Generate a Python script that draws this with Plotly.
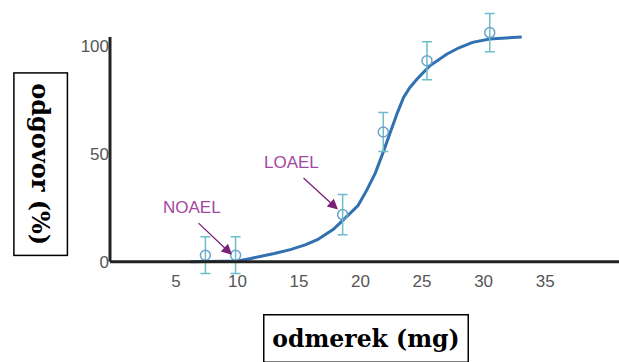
import plotly.graph_objects as go

# ---- data ----
dose_points = [7.4, 9.85, 18.55, 21.85, 25.4, 30.5]
resp_points = [3, 3, 21.8, 60, 93, 106]
resp_err = [8.5, 8.5, 9.3, 9.0, 8.8, 8.9]

dose_curve = [6.2, 8.0, 10.0, 11.0, 11.8, 13.0, 14.3, 15.5, 16.5, 17.8, 18.9, 19.8,
              20.5, 21.2, 21.8, 22.4, 23.0, 23.5, 24.0, 24.6, 25.6, 27.0, 28.0,
              29.1, 30.5, 33.1]
resp_curve = [0, 0, 0.3, 1.4, 2.3, 3.8, 5.6, 7.8, 10.2, 15, 21, 26, 33, 41, 50,
              60, 69, 76, 80.5, 84.5, 90.5, 96, 99, 101.5, 103, 104]

x_ticks = [5, 10, 15, 20, 25, 30, 35]
y_ticks = [0, 50, 100]

x_title = "odmerek (mg)"
y_title = "odgovor (%)"

labels = ["NOAEL", "LOAEL"]
label_xy = [(6.35, 25.0), (14.4, 45.8)]
arrow_head = [(9.56, 3.2), (18.17, 24.1)]
arrow_tail = [(6.72, 18.5), (15.25, 39.4)]

X_RANGE = [-0.35, 41.0]
Y_RANGE = [-8, 116]
AXIS_TOP = 104

fig = go.Figure()

fig.add_trace(go.Scatter(
    x=dose_curve, y=resp_curve, mode="lines",
    line=dict(color="#3171b2", width=3), hoverinfo="skip"))

fig.add_trace(go.Scatter(
    x=dose_points, y=resp_points, mode="markers",
    marker=dict(symbol="circle-open", size=10, color="#6aa3c9",
                line=dict(width=1.5, color="#6aa3c9")),
    error_y=dict(type="data", array=resp_err, visible=True,
                 color="#6bbdca", thickness=1.5, width=5)))

# axis lines
fig.add_shape(type="line", xref="paper", yref="y", x0=0, x1=1, y0=0, y1=0,
              line=dict(color="#222222", width=3))
fig.add_shape(type="line", xref="paper", yref="y", x0=0, x1=0, y0=0, y1=AXIS_TOP,
              line=dict(color="#222222", width=3))

purple_text = "#a347a3"
purple_arrow = "#7a1f7a"
for t, (tx, ty), (hx, hy), (sx, sy) in zip(labels, label_xy, arrow_head, arrow_tail):
    fig.add_annotation(x=tx, y=ty, text=t, showarrow=False,
                       font=dict(family="Liberation Sans", size=17, color=purple_text))
    fig.add_annotation(x=hx, y=hy, ax=sx, ay=sy, axref="x", ayref="y", text="",
                       showarrow=True, arrowhead=2, arrowsize=1.6, arrowwidth=1.3,
                       arrowcolor=purple_arrow, standoff=0, startstandoff=0)

# axis titles in boxes
fig.add_annotation(xref="paper", yref="paper", x=(366 - 110) / 509, y=(279.3 - 339) / 267.9,
                   text="<b>" + x_title + "</b>", showarrow=False,
                   font=dict(family="DejaVu Serif", size=23.5, color="black"),
                   bordercolor="black", borderwidth=1.5, borderpad=0,
                   width=203, height=46, xanchor="center", yanchor="middle")
fig.add_annotation(xref="paper", yref="paper", x=(40.5 - 110) / 509, y=(279.3 - 164) / 267.9,
                   text="<b>" + y_title + "</b>", showarrow=False, textangle=90,
                   font=dict(family="DejaVu Serif", size=24, color="black"),
                   bordercolor="black", borderwidth=1.5, borderpad=0,
                   width=181, height=52, xanchor="center", yanchor="middle")

tick_font = dict(family="Liberation Sans", size=17, color="#555555")
fig.update_layout(
    width=619, height=362,
    margin=dict(l=110, r=0, t=11.4, b=82.7),
    paper_bgcolor="white", plot_bgcolor="white",
    showlegend=False,
    xaxis=dict(range=X_RANGE, tickvals=x_ticks, showgrid=False, zeroline=False,
               showline=False, ticks="", tickfont=tick_font,
               anchor="free", position=0.038),
    yaxis=dict(range=Y_RANGE, tickvals=y_ticks, showgrid=False, zeroline=False,
               showline=False, ticks="", tickfont=tick_font),
)

fig.write_html("out.html", config={"displayModeBar": False},
               post_script="document.body.style.margin='0';")
